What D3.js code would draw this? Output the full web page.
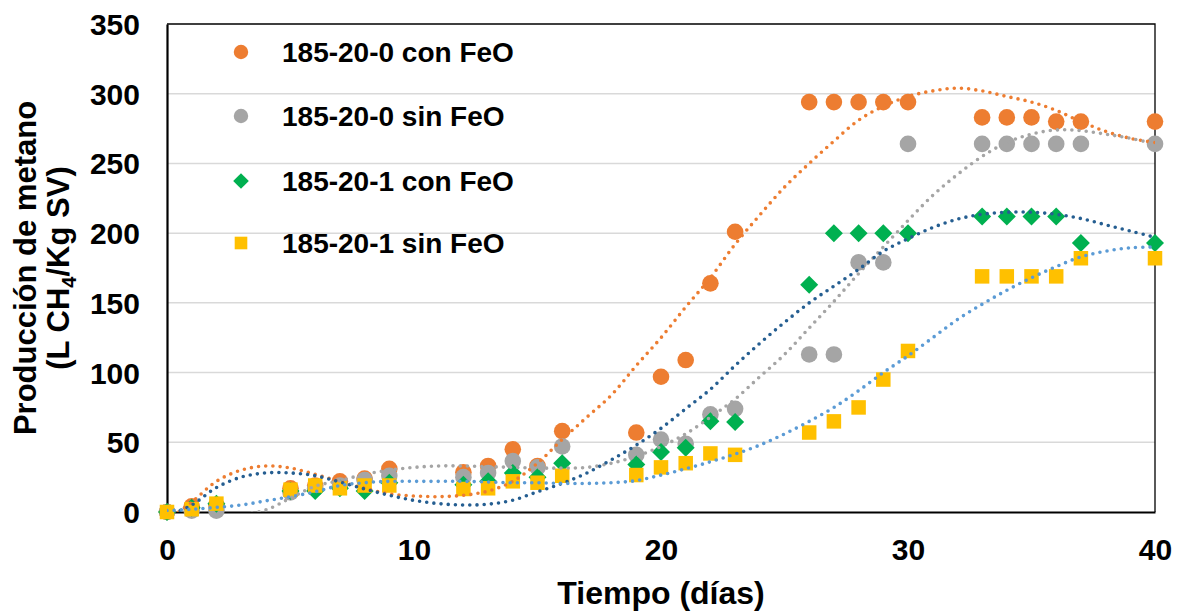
<!DOCTYPE html>
<html>
<head>
<meta charset="utf-8">
<script src="https://cdn.jsdelivr.net/npm/d3@7"></script>
<style>
  html, body { margin: 0; padding: 0; background: #fff; }
  svg { display: block; font-family: "Liberation Sans", Arial, sans-serif; }
</style>
</head>
<body>
<svg id="chart" width="1183" height="611"></svg>
<script>
// Sampling days
const days = [0,1,2,5,6,7,8,9,12,13,14,15,16,19,20,21,22,23,26,27,28,29,30,33,34,35,36,37,40];

// Cumulative methane production (L CH4/Kg SV)
const con0 = [0,4,5,17,19,22,24,31,28.5,33,45,33,58,57,97,109,164,201,294,294,294,294,294,283,283,283,280,280,280];
const sin0 = [0,1,1,14,17,19,23,26,25,28,36.5,32,47,41,52,49,70,74,113,113,179,179,264,264,264,264,264,264,264];
const con1 = [0,3,6,15,15,17,15,21,19.5,22,28,25,35,34,43,46,65,64.5,163,200,200,200,200,212,212,212,212,193,193];
const sin1 = [0,2,6,16,19,17,19,19,16.5,17,22,21,26,26.5,32,35,42,41,57,65,75,95,115.5,169,169,169,169,182,182];

// Polynomial trendlines, values at each day 0..40
const trendDays = d3.range(0, 41);
const trendCon0 = [-6,7,22,30,33,31.5,27,22,17,13,11.5,11,12,15,22,35,52,68,84,105,125,147,168,192,213,233,250,266,281,291,298,302,304,302,298,294,288,280,273,268,265];
const trendSin0 = [-12,-8,-5,-2,1.5,10,18.5,22.5,27,30,32,33,33,32.5,32,31.5,31.5,32,35,40,47,56,68,81,97,113,132,151,171,190,209,227,242,255,265,271,274,273.5,271,268,264];
const trendCon1 = [-3,5,17.5,25,28,28,26,21.5,16.5,12,8.3,6,5,5.6,8.5,14.5,20.5,28,37.5,48,60,74,88,105,121,136,150,162,174,187,196,204,210,213.5,215,215,213.5,210.5,206,201.5,197];
const trendSin1 = [1,2,3.3,5,8,11,14.5,19,21,22,22,22,22,21.5,21,21,20.5,20.5,21,22.5,26.5,31,36,41.5,48,56,65,75,87,100,112,125,138,149,159,168,176,183,187,189.5,190];

const seriesNames = ["185-20-0 con FeO","185-20-0 sin FeO","185-20-1 con FeO","185-20-1 sin FeO"];
const seriesValues = [con0, sin0, con1, sin1];
const trendValues = [trendCon0, trendSin0, trendCon1, trendSin1];
const markerColors = ["#ED7D31","#A5A5A5","#00B050","#FFC000"];
const markerShapes = ["circle","circle","diamond","square"];
const trendColors = ["#ED7D31","#A5A5A5","#255E91","#5B9BD5"];

const xTicks = [0,10,20,30,40];
const yTicks = [0,50,100,150,200,250,300,350];

const svg = d3.select("#chart");
const plot = {left: 167, right: 1155, top: 24, bottom: 512};

const x = d3.scaleLinear().domain([0, 40]).range([plot.left, plot.right]);
const y = d3.scaleLinear().domain([0, 350]).range([plot.bottom, plot.top]);

// Horizontal gridlines
svg.append("g")
  .selectAll("line")
  .data(yTicks.filter(v => v > 0 && v < 350))
  .join("line")
  .attr("x1", plot.left).attr("x2", plot.right)
  .attr("y1", d => y(d)).attr("y2", d => y(d))
  .attr("stroke", "#D9D9D9").attr("stroke-width", 1.5);

// Plot frame (top and right)
svg.append("path")
  .attr("d", `M${plot.left},${plot.top}H${plot.right}V${plot.bottom}`)
  .attr("fill", "none").attr("stroke", "#000").attr("stroke-width", 1.3);

// Axes
const yAxis = d3.axisLeft(y).tickValues(yTicks).tickSize(0).tickPadding(27);
const xAxis = d3.axisBottom(x).tickValues(xTicks).tickSize(0).tickPadding(27);

const gy = svg.append("g").attr("transform", `translate(${plot.left},0)`).call(yAxis);
const gx = svg.append("g").attr("transform", `translate(0,${plot.bottom})`).call(xAxis);
[gx, gy].forEach(g => {
  g.select(".domain").attr("stroke", "#000").attr("stroke-width", 2.2);
  g.selectAll("text")
    .attr("fill", "#000")
    .style("font-size", "30px")
    .style("font-weight", "bold")
    .style("font-family", "'Liberation Sans', Arial, sans-serif");
});
gy.selectAll("text").attr("dy", "0.35em");

const clipId = "plotClip";
svg.append("clipPath").attr("id", clipId)
  .append("rect")
  .attr("x", plot.left).attr("y", plot.top)
  .attr("width", plot.right - plot.left).attr("height", plot.bottom - plot.top);

function drawMarker(g, shape, color, cx, cy, scale = 1) {
  if (shape === "circle") {
    g.append("circle").attr("cx", cx).attr("cy", cy).attr("r", 8.3 * scale).attr("fill", color);
  } else if (shape === "diamond") {
    const h = 9 * scale;
    g.append("path")
      .attr("d", `M${cx},${cy - h}L${cx + h},${cy}L${cx},${cy + h}L${cx - h},${cy}Z`)
      .attr("fill", color);
  } else {
    const s = 14.5 * scale;
    g.append("rect").attr("x", cx - s / 2).attr("y", cy - s / 2)
      .attr("width", s).attr("height", s).attr("fill", color);
  }
}

// Data markers
const markersG = svg.append("g");
seriesValues.forEach((vals, i) => {
  const g = markersG.append("g");
  days.forEach((d, k) => drawMarker(g, markerShapes[i], markerColors[i], x(d), y(vals[k])));
});

// Dotted trendlines, drawn over the markers
const trendG = svg.append("g").attr("clip-path", `url(#${clipId})`);
const line = d3.line()
  .x((d, k) => x(trendDays[k]))
  .y(d => y(d))
  .curve(d3.curveCatmullRom.alpha(0.5));
trendValues.forEach((vals, i) => {
  trendG.append("path")
    .attr("d", line(vals))
    .attr("fill", "none")
    .attr("stroke", trendColors[i])
    .attr("stroke-width", 3.6)
    .attr("stroke-linecap", "round")
    .attr("stroke-dasharray", "0 7.2");
});

// Legend
const legend = svg.append("g");
const legendY = [52, 116, 181, 243];
seriesNames.forEach((name, i) => {
  drawMarker(legend, markerShapes[i], markerColors[i], 241, legendY[i], 0.87);
  legend.append("text")
    .attr("x", 282).attr("y", legendY[i]).attr("dy", "0.36em")
    .style("font-size", "28px").style("font-weight", "bold")
    .text(name);
});

// Axis titles
svg.append("text")
  .attr("x", 661).attr("y", 604)
  .attr("text-anchor", "middle")
  .style("font-size", "32px").style("font-weight", "bold")
  .text("Tiempo (días)");

const yTitle = svg.append("text")
  .attr("transform", "translate(0,268) rotate(-90)")
  .attr("text-anchor", "middle")
  .style("font-size", "31px").style("font-weight", "bold");
yTitle.append("tspan").attr("x", 0).attr("y", 36).text("Producción de metano");
const l2 = yTitle.append("tspan").attr("x", 0).attr("y", 69);
l2.append("tspan").text("(L CH");
l2.append("tspan").attr("dy", 7).style("font-size", "20px").text("4");
l2.append("tspan").attr("dy", -7).text("/Kg SV)");
</script>
</body>
</html>
